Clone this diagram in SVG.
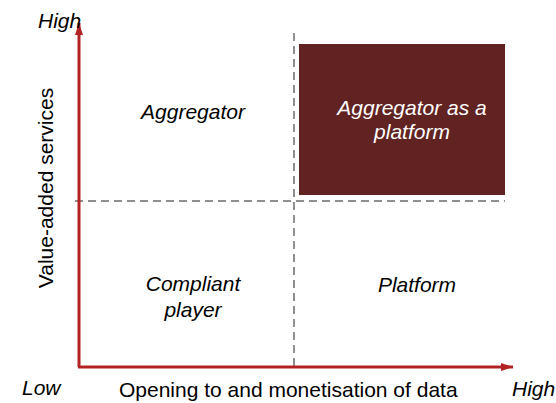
<svg xmlns="http://www.w3.org/2000/svg" width="556" height="403" viewBox="0 0 556 403">
<style>
.t{font-family:"Liberation Sans",Arial,sans-serif;font-size:21px;fill:#000}
.i{font-style:italic}
.c{text-anchor:middle}
.w{fill:#fff}
.dash{stroke:#8f8f8f;stroke-width:2;stroke-dasharray:8 5;fill:none}
.axis{stroke:#B22222;stroke-width:3;fill:none}
</style>
<defs>
<marker id="ah" markerWidth="12" markerHeight="8" refX="12" refY="4" orient="auto" markerUnits="userSpaceOnUse">
<path d="M0,0 L12,4 L0,8 Z" fill="#B22222"/>
</marker>
</defs>
<rect width="556" height="403" fill="#fff"/>
<g id="connectors">
<line class="dash" x1="294" y1="33" x2="294" y2="367"/>
<line class="dash" x1="75" y1="201" x2="505" y2="201"/>
<path class="axis" d="M79,367 L79,23" marker-end="url(#ah)"/>
<path class="axis" d="M78,367 L513,367" marker-end="url(#ah)"/>
</g>
<g id="node-aggregator-platform">
<rect x="299" y="44" width="206" height="151" fill="#612222"/>
<text class="t i c w" x="412" y="115">Aggregator as a</text>
<text class="t i c w" x="412" y="139">platform</text>
</g>
<g id="node-aggregator">
<text class="t i c" x="193" y="119">Aggregator</text>
</g>
<g id="node-compliant">
<text class="t i c" x="193" y="291">Compliant</text>
<text class="t i c" x="193" y="317">player</text>
</g>
<g id="node-platform">
<text class="t i c" x="417" y="292">Platform</text>
</g>
<g id="labels">
<text class="t i" x="38" y="28">High</text>
<text class="t i" x="22" y="395">Low</text>
<text class="t i" x="512" y="396">High</text>
<text class="t" x="119" y="397">Opening to and monetisation of data</text>
<text class="t c" transform="translate(53,188) rotate(-90)">Value-added services</text>
</g>
</svg>
